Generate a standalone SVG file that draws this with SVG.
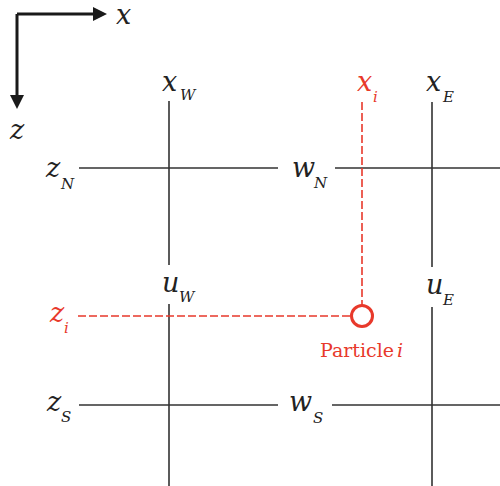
<svg xmlns="http://www.w3.org/2000/svg" width="500" height="486" viewBox="0 0 500 486">
<defs>
<style>
.g{stroke:#333;stroke-width:1.6;fill:none}
.r{stroke:#e8392b;stroke-width:1.6;fill:none;stroke-dasharray:8 3}
.ax{stroke:#1a1a1a;stroke-width:3;fill:none}
</style>
</defs>
<g id="axes">
<path class="ax" d="M17,14 H95 M17,14 V97"/>
<polygon points="93,7 107,14 93,21" fill="#1a1a1a"/>
<polygon points="10,95 17,109 24,95" fill="#1a1a1a"/>
<g font-family="DejaVu Serif, Liberation Serif, serif" font-style="italic" font-size="27" fill="#222">
<text x="116" y="24">x</text>
<text x="10" y="139">z</text>
</g>
</g>
<g id="connectors">
<path class="g" d="M169,101 V265 M169,304 V486"/>
<path class="g" d="M432,102 V267 M432,307 V486"/>
<path class="g" d="M79,168 H278 M335,168 H500"/>
<path class="g" d="M79,405 H278 M332,405 H500"/>
<path class="r" d="M362,102 V305"/>
<path class="r" d="M78,316 H350"/>
</g>
<g id="particle" font-family="DejaVu Serif, Liberation Serif, serif" font-size="19" fill="#e8392b">
<circle cx="362" cy="316" r="10.5" fill="#fff" stroke="#e8392b" stroke-width="3"/>
<text x="320" y="357">Particle</text>
<text x="397" y="357" font-style="italic">i</text>
</g>
<g font-family="DejaVu Serif, Liberation Serif, serif" font-style="italic" fill="#222">
<g id="xW"><text font-size="27" x="162" y="91">x</text><text font-size="15" x="180" y="100">W</text></g>
<g id="xi" fill="#e8392b"><text font-size="27" x="357" y="91">x</text><text font-size="15" x="373" y="102">i</text></g>
<g id="xE"><text font-size="27" x="426" y="91">x</text><text font-size="15" x="443" y="102">E</text></g>
<g id="zN"><text font-size="27" x="46" y="177">z</text><text font-size="15" x="61" y="189">N</text></g>
<g id="wN"><text font-size="27" x="292" y="177">w</text><text font-size="15" x="314" y="188">N</text></g>
<g id="uW"><text font-size="27" x="162" y="292">u</text><text font-size="15" x="179" y="302">W</text></g>
<g id="uE"><text font-size="27" x="426" y="294">u</text><text font-size="15" x="443" y="305">E</text></g>
<g id="zi" fill="#e8392b"><text font-size="27" x="50" y="322">z</text><text font-size="15" x="64" y="333">i</text></g>
<g id="zS"><text font-size="27" x="47" y="411">z</text><text font-size="15" x="61" y="422">S</text></g>
<g id="wS"><text font-size="27" x="289" y="411">w</text><text font-size="15" x="313" y="423">S</text></g>
</g>
</svg>
